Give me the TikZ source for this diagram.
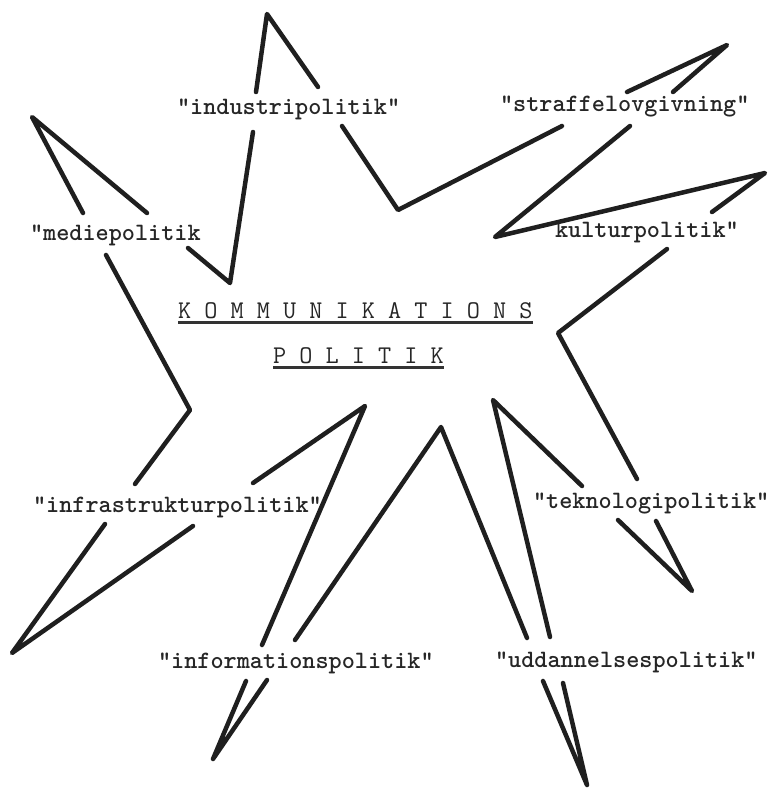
\documentclass[tikz,border=0pt]{standalone}
\tikzset{
  stroke/.style={line width=4.5pt, line cap=round, line join=round, draw=black!88},
  lab/.style={anchor=base west, inner sep=0pt, outer sep=0pt, text=black!85,
    font=\ttfamily\bfseries\fontsize{25}{30}\selectfont},
  title/.style={lab, font=\ttfamily\fontsize{25.5}{30}\selectfont},
  uline/.style={line width=3.5pt, draw=black!80}
}
\begin{document}
\begin{tikzpicture}[x=1pt,y=-1pt]
\useasboundingbox (0,0) rectangle (774,789);
% labels
\node[lab] (ind) at (177,115) {"industripolitik"};
\node[lab] (str) at (500,112) {"straffelovgivning"};
\node[lab] (med) at (30,240) {"mediepolitik};
\node[lab] (kul) at (555,237) {kulturpolitik"};
\node[lab] (inf) at (33,512) {"infrastrukturpolitik"};
\node[lab] (tek) at (533,508) {"teknologipolitik"};
\node[lab] (ifo) at (158,668) {"informationspolitik"};
\node[lab] (udd) at (495,667) {"uddannelsespolitik"};
\node[title] (kom) at (178,318) {K O M M U N I K A T I O N S};
\node[title] (pol) at (273,363) {P O L I T I K};
% underlines
\draw[uline] ([yshift=-4.5pt]kom.base west) -- ([yshift=-4.5pt]kom.base east);
\draw[uline] ([yshift=-4.5pt]pol.base west) -- ([yshift=-4.5pt]pol.base east);
% star outline
\draw[stroke] (256,92) -- (267,14) -- (318,87);
\draw[stroke] (342,126) -- (398,210) -- (562,126);
\draw[stroke] (627,92) -- (727,45) -- (673,92);
\draw[stroke] (630,126) -- (495,237) -- (765,173) -- (712,212);
\draw[stroke] (667,249) -- (558,333) -- (637,479);
\draw[stroke] (582,486) -- (493,400) -- (550,637);
\draw[stroke] (618,520) -- (692,591) -- (656,521);
\draw[stroke] (543,681) -- (587,785) -- (563,683);
\draw[stroke] (527,638) -- (441,427) -- (295,640);
\draw[stroke] (267,680) -- (213,759) -- (246,681);
\draw[stroke] (262,645) -- (365,406) -- (253,483);
\draw[stroke] (193,526) -- (12,653) -- (105,524);
\draw[stroke] (135,484) -- (190,410) -- (106,255);
\draw[stroke] (83,213) -- (32,117) -- (147,213);
\draw[stroke] (188,248) -- (230,283) -- (253,132);
\end{tikzpicture}
\end{document}
